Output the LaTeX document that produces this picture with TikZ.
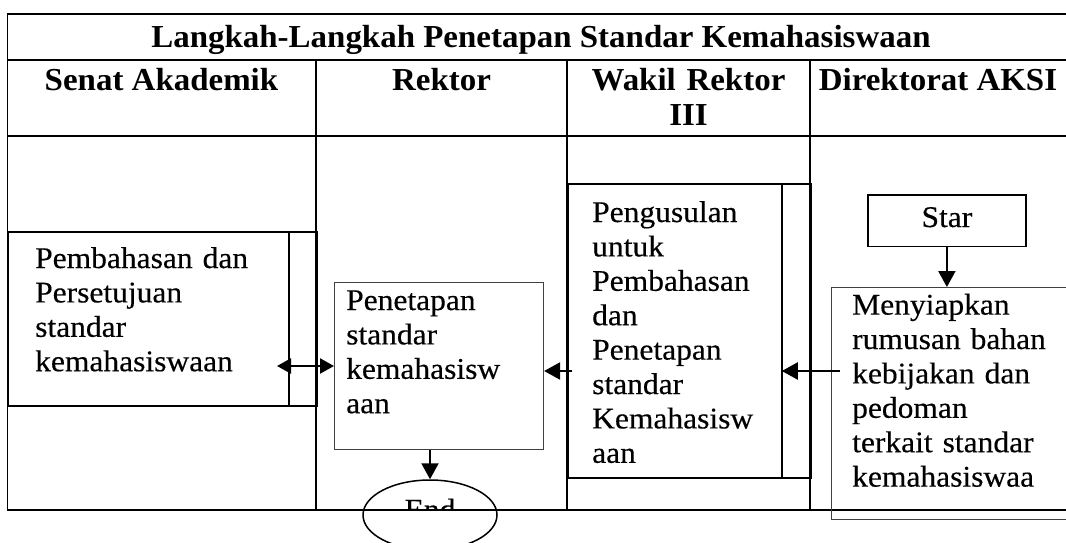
\documentclass[tikz,border=0pt]{standalone}
\usepackage{fontspec}
\setmainfont{Liberation Serif}[FakeStretch=1.05,FakeBold=0.35]
\newfontfamily\headfont{Liberation Serif}[FakeStretch=1.03]
\usetikzlibrary{arrows.meta,shapes.geometric}
\begin{document}
\begin{tikzpicture}[x=1pt,y=-1pt,
  grid/.style={line width=1.8pt, black, line cap=rect},
  cellbox/.style={draw=black, line width=1.8pt, inner sep=0pt, anchor=north west},
  greybox/.style={draw=black!75, line width=1.1pt, inner sep=0pt, anchor=north west},
  body/.style={font=\fontsize{30}{34.4}\selectfont, text width=260pt, align=left, inner sep=0pt, anchor=base west},
  head/.style={font=\headfont\bfseries\fontsize{32}{34.5}\selectfont, inner sep=0pt, anchor=base},
  arr/.style={line width=2.2pt, -{Triangle[length=16pt,width=17pt]}},
  dbl/.style={line width=2.2pt, {Triangle[length=14pt,width=15pt]}-{Triangle[length=14pt,width=15pt]}}
]
\useasboundingbox (0,0) rectangle (1066,543);
% table grid
\draw[grid] (7.5,14) -- (1066,14);
\draw[grid] (7.5,60) -- (1066,60);
\draw[grid] (7.5,136) -- (1066,136);
\draw[grid] (7.5,510) -- (1066,510);
\draw[grid] (7.5,14) -- (7.5,510);
\draw[grid] (316,60) -- (316,510);
\draw[grid] (567,60) -- (567,510);
\draw[grid] (810,60) -- (810,510);
% title and headers
\node[head] (title) at (541,48) {Langkah-Langkah Penetapan Standar Kemahasiswaan};
\node[head] (hsenat) at (161.5,91) {Senat Akademik};
\node[head] (hrektor) at (441.5,91) {Rektor};
\node[head, text width=240pt, align=center] (hwakil) at (688.5,91) {Wakil Rektor\\III};
\node[head] (haksi) at (938,91) {Direktorat AKSI};
% boxes
\node[cellbox, minimum width=308.5pt, minimum height=174pt] (senat) at (7.5,231) {};
\draw[line width=1.8pt] ([xshift=-29pt]senat.north east) -- ([xshift=-29pt]senat.south east);
\node[cellbox, minimum width=243pt, minimum height=294pt] (wakil) at (567,183) {};
\draw[line width=1.8pt] ([xshift=-30pt]wakil.north east) coordinate (wakilin) -- ([xshift=-30pt]wakil.south east);
\node[greybox, minimum width=209pt, minimum height=167pt] (penetapan) at (334,282) {};
\node[cellbox, minimum width=158pt, minimum height=51.5pt] (star) at (867,194) {};
\node[greybox, minimum width=250pt, minimum height=232pt] (menyiapkan) at (831,287) {};
\node[draw, line width=1.5pt, ellipse, minimum width=134pt, minimum height=70pt, inner sep=0pt] (endnode) at (430,515) {};
% texts
\node[body] (tsenat) at (35,268) {Pembahasan dan\\Persetujuan\\standar\\kemahasiswaan};
\node[body] (tpenetapan) at (346,310) {Penetapan\\standar\\kemahasisw\\aan};
\node[body] (twakil) at (592,222) {Pengusulan\\untuk\\Pembahasan\\dan\\Penetapan\\standar\\Kemahasisw\\aan};
\node[body] (tmenyiapkan) at (852,314.6) {Menyiapkan\\rumusan bahan\\kebijakan dan\\pedoman\\terkait standar\\kemahasiswaa};
\node[font=\fontsize{30}{34.4}\selectfont, inner sep=0pt, anchor=base] (tstar) at (star.center |- 0,227) {Star};
\begin{scope}
  \clip (0,0) rectangle (1066,510);
  \node[font=\fontsize{30}{34.4}\selectfont, inner sep=0pt, anchor=base] (tend) at (430,519.5) {End};
\end{scope}
% connectors
\draw[arr] (star.south) -- (star.south |- menyiapkan.north);
\coordinate (m1) at (840,371);
\draw[arr] (m1) -- (m1 -| wakilin);
\coordinate (w1) at (572,371);
\draw[arr] (w1) -- (w1 -| penetapan.east);
\coordinate (s1) at (277,366);
\draw[dbl] (s1) -- (s1 -| penetapan.west);
\draw[arr] (endnode.north |- penetapan.south) -- (endnode.north);
\end{tikzpicture}
\end{document}
